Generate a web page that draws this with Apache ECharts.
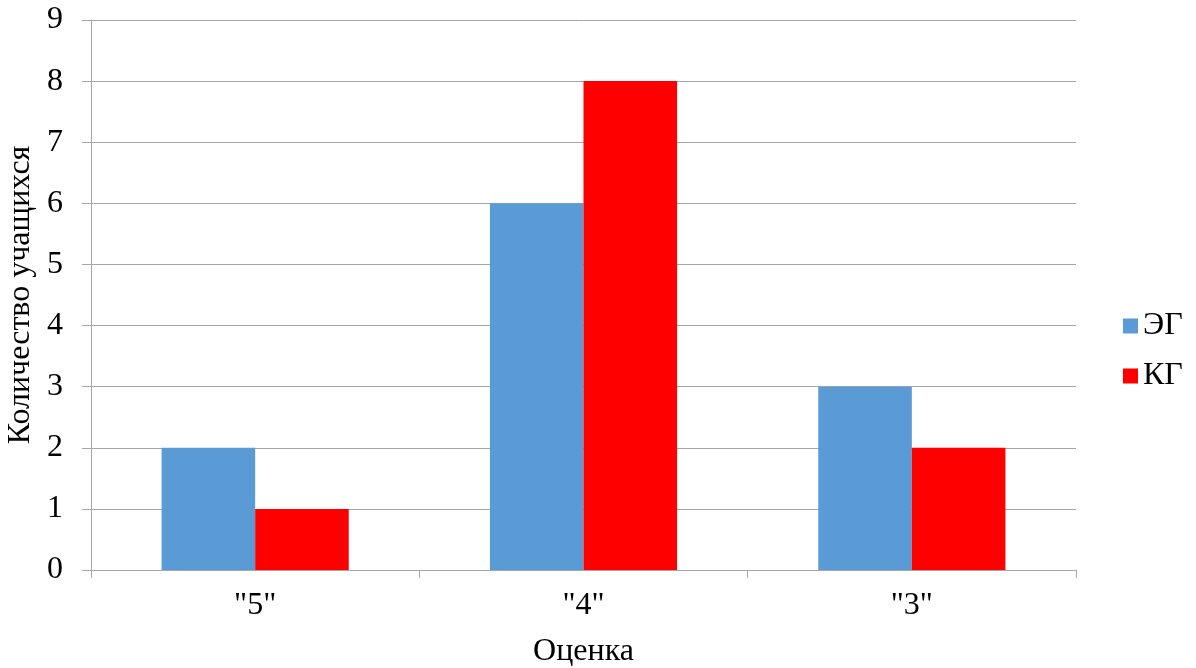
<!DOCTYPE html>
<html><head><meta charset="utf-8">
<script src="https://cdn.jsdelivr.net/npm/echarts@6/dist/echarts.min.js"></script>
<style>html,body{margin:0;padding:0;background:#fff}#c{width:1196px;height:668px}</style>
</head><body><div id="c"></div>
<script>
const categories = ['"5"', '"4"', '"3"'];
const seriesNames = ['ЭГ', 'КГ'];
const egValues = [2, 6, 3];
const kgValues = [1, 8, 2];
const yTicks = [0, 9, 1];

const F = 'Liberation Serif, Times New Roman, serif';
const FS = 32;
const chart = echarts.init(document.getElementById('c'));
chart.setOption({
  animation: false,
  textStyle: { fontFamily: F },
  grid: { left: 91, right: 120, top: 20, bottom: 98, containLabel: false, outerBoundsMode: 'none' },
  legend: {
    orient: 'vertical', left: 1118, top: 305,
    data: seriesNames,
    icon: 'rect', itemWidth: 15, itemHeight: 15, itemGap: 18,
    textStyle: { fontFamily: F, fontSize: FS, color: '#000' }
  },
  xAxis: {
    type: 'category', data: categories,
    name: 'Оценка', nameLocation: 'middle', nameGap: 66,
    nameTextStyle: { fontFamily: F, fontSize: FS, color: '#000' },
    axisLine: { lineStyle: { color: '#a6a6a6', width: 1 } },
    axisTick: { show: true, length: 8, lineStyle: { color: '#a6a6a6' } },
    axisLabel: { fontFamily: F, fontSize: FS, color: '#000', margin: 20 }
  },
  yAxis: {
    type: 'value', min: yTicks[0], max: yTicks[1], interval: yTicks[2],
    name: 'Количество учащихся', nameLocation: 'middle', nameGap: 50, nameRotate: 90,
    nameTextStyle: { fontFamily: F, fontSize: FS, color: '#000' },
    axisLine: { show: true, lineStyle: { color: '#a6a6a6', width: 1 } },
    axisTick: { show: true, length: 9, lineStyle: { color: '#a6a6a6' } },
    axisLabel: { fontFamily: F, fontSize: FS, color: '#000', margin: 28 },
    splitLine: { lineStyle: { color: '#a6a6a6', width: 1 } }
  },
  series: [
    { name: seriesNames[0], type: 'bar', data: egValues, itemStyle: { color: '#5b9bd5' }, barGap: '0%', barCategoryGap: '43%' },
    { name: seriesNames[1], type: 'bar', data: kgValues, itemStyle: { color: '#ff0000' }, barGap: '0%', barCategoryGap: '43%' }
  ]
});
</script></body></html>
